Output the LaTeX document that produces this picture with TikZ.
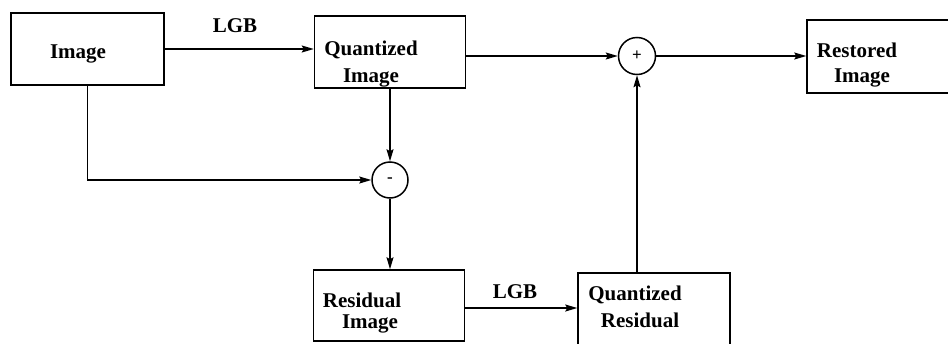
\documentclass[tikz,border=0pt]{standalone}
\usepackage{fontspec}
\setmainfont{Liberation Serif}
\usetikzlibrary{arrows.meta}
\begin{document}
\begin{tikzpicture}[x=1pt,y=-1pt,
  box/.style={draw,line width=1.5pt,rectangle,inner sep=0pt},
  sumnode/.style={draw,line width=1.5pt,circle,inner sep=0pt,minimum size=37pt,font=\fontsize{17}{17}\selectfont\bfseries},
  lbl/.style={anchor=base,inner sep=0pt,font=\fontsize{21}{24}\selectfont\bfseries},
  conn/.style={line width=1.5pt},
  arr/.style={conn,-{Stealth[length=12pt,width=7pt,inset=2pt]}}]
\useasboundingbox (0,0) rectangle (948,343);
\clip (0,0) rectangle (948,343);
% boxes
\node[box,minimum width=153pt,minimum height=72pt] (img) at (87.5,49) {};
\node[box,minimum width=151pt,minimum height=72pt] (q) at (390,52) {};
\node[box,minimum width=153pt,minimum height=73pt] (rest) at (883.5,56.5) {};
\node[box,minimum width=151pt,minimum height=71pt] (res) at (389,305.5) {};
\node[box,minimum width=152pt,minimum height=82pt] (qr) at (654,314) {};
\node[sumnode] (plus) at (637,56) {+};
\node[sumnode,minimum size=36pt] (minus) at (390,180) {-};
% texts
\node[lbl] (t1) at (78,58) {Image};
\node[lbl] (t2a) at (371,55) {Quantized};
\node[lbl] (t2b) at (371,82) {Image};
\node[lbl] (t3a) at (857,57) {Restored};
\node[lbl] (t3b) at (862,82) {Image};
\node[lbl] (t4a) at (362,307) {Residual};
\node[lbl] (t4b) at (370,328) {Image};
\node[lbl] (t5a) at (635,300) {Quantized};
\node[lbl] (t5b) at (640,327) {Residual};
\node[lbl] (lgb1) at (235,32) {LGB};
\node[lbl] (lgb2) at (515,298) {LGB};
% connectors
\draw[arr] (img.east) -- (img.east -| q.west);
\draw[arr] (q.east |- plus) -- (plus);
\draw[arr] (plus) -- (rest.west |- plus);
\draw[arr] (q.south) -- (minus);
\draw[arr] (img.south) |- (minus);
\draw[arr] (minus) -- (minus |- res.north);
\draw[arr] (res.east |- 0,308) -- (qr.west |- 0,308);
\draw[arr] (qr.north -| plus) -- (plus);
\end{tikzpicture}
\end{document}
